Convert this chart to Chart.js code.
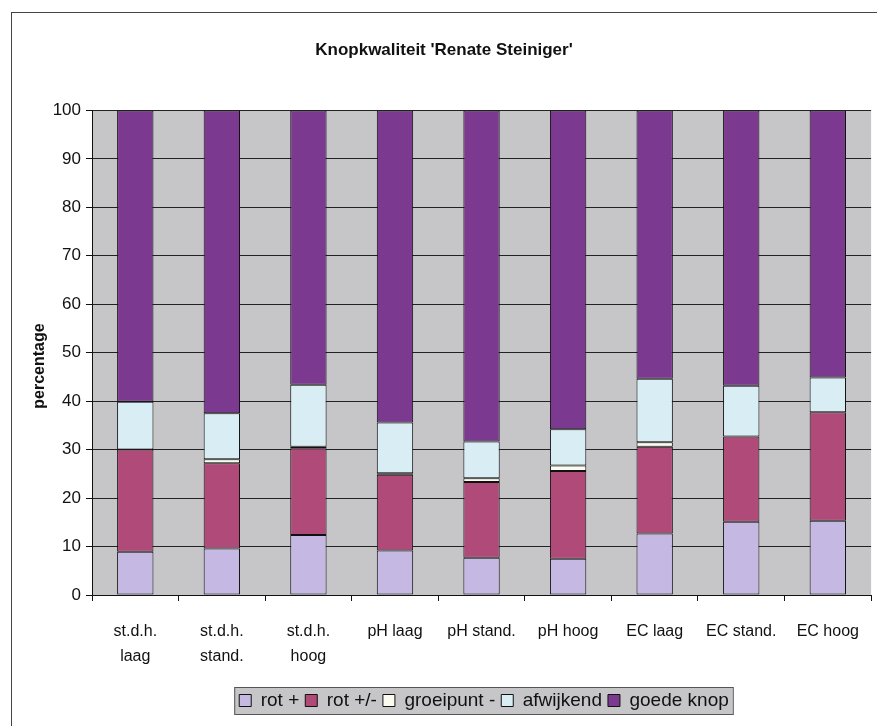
<!DOCTYPE html>
<html>
<head>
<meta charset="utf-8">
<script src="https://cdn.jsdelivr.net/npm/chart.js@4.4.0/dist/chart.umd.min.js"></script>
<style>
  body { margin: 0; background: #fff; }
  #wrap { width: 877px; height: 726px; }
</style>
</head>
<body>
<div id="wrap"><canvas id="barChart" width="877" height="726"></canvas></div>
<script>
const categories = [['st.d.h.', 'laag'], ['st.d.h.', 'stand.'], ['st.d.h.', 'hoog'], 'pH laag', 'pH stand.', 'pH hoog', 'EC laag', 'EC stand.', 'EC hoog'];
const rotPlus = [8.9, 9.6, 12.4, 9.2, 7.7, 7.5, 12.7, 15.1, 15.3];
const rotPlusMin = [21.1, 17.6, 17.9, 15.6, 15.6, 18.1, 17.9, 17.6, 22.4];
const groeipunt = [0, 0.8, 0.3, 0.3, 0.8, 1.1, 0.9, 0, 0];
const afwijkend = [9.9, 9.5, 12.8, 10.5, 7.6, 7.5, 13.1, 10.5, 7.2];
const goedeKnop = [60.1, 62.5, 56.6, 64.4, 68.3, 65.8, 55.4, 56.8, 55.1];
const yTicks = [0, 10, 20, 30, 40, 50, 60, 70, 80, 90, 100];

const FONT = "'Liberation Sans Narrow', 'Liberation Sans', Arial, sans-serif";
const LEGEND_SHIFT = 40;

// grey plot area, outer frame and box round the legend
const backdrop = {
    id: 'backdrop',
    afterLayout(chart) {
        // the legend sits a bit right of centre in the original
        const lg = chart.legend;
        lg.left += LEGEND_SHIFT;
        lg.right += LEGEND_SHIFT;
        lg.legendHitBoxes.forEach(h => { h.left += LEGEND_SHIFT; });
    },
    beforeDraw(chart) {
        const c = chart.ctx;
        const a = chart.chartArea;
        c.save();
        c.fillStyle = '#fff';
        c.fillRect(0, 0, chart.width, chart.height);
        c.strokeStyle = '#444';
        c.lineWidth = 1;
        c.strokeRect(11.5, 12.5, 1000, 1000);
        c.fillStyle = '#c6c6c8';
        c.fillRect(a.left, a.top, a.right - a.left, a.bottom - a.top);
        const hb = chart.legend.legendHitBoxes;
        if (hb && hb.length) {
            const l = Math.min(...hb.map(h => h.left)) - 5;
            const r = Math.max(...hb.map(h => h.left + h.width)) + 4;
            const t = hb[0].top - 4;
            const b = hb[0].top + hb[0].height + 4;
            c.fillStyle = '#c6c6c8';
            c.fillRect(l, t, r - l, b - t);
            c.strokeStyle = '#555';
            c.strokeRect(l + 0.5, t + 0.5, r - l, b - t);
        }
        c.restore();
    }
};

const ctx = document.getElementById('barChart');

const bar = (label, data, color) => ({
    label: label,
    data: data,
    backgroundColor: color,
    borderColor: '#111',
    borderWidth: 1,
    borderSkipped: false,
    barPercentage: 0.42,
    categoryPercentage: 1
});

new Chart(ctx, {
    type: 'bar',
    data: {
        labels: categories,
        datasets: [
            bar('rot +', rotPlus, '#c5b9e3'),
            bar('rot +/-', rotPlusMin, '#b04a78'),
            bar('groeipunt -', groeipunt, '#fbfbf0'),
            bar('afwijkend', afwijkend, '#d9edf5'),
            bar('goede knop', goedeKnop, '#7b3a8f')
        ]
    },
    plugins: [backdrop],
    options: {
        responsive: false,
        animation: false,
        layout: { padding: { left: 12, right: 1, top: 0, bottom: 6 } },
        plugins: {
            title: {
                display: true,
                text: "Knopkwaliteit 'Renate Steiniger'",
                color: '#111',
                font: { family: FONT, size: 17, weight: 'bold' },
                padding: { top: 40, bottom: 50 }
            },
            legend: {
                position: 'bottom',
                labels: {
                    color: '#111',
                    font: { family: FONT, size: 19 },
                    boxWidth: 12,
                    boxHeight: 12,
                    padding: 6,
                    generateLabels(chart) {
                        return chart.data.datasets.map((d, i) => ({
                            text: d.label,
                            fillStyle: d.backgroundColor,
                            strokeStyle: '#111',
                            lineWidth: 1,
                            datasetIndex: i,
                            fontColor: '#111'
                        }));
                    }
                }
            },
            tooltip: { enabled: false }
        },
        scales: {
            x: {
                stacked: true,
                border: { color: '#111' },
                grid: {
                    drawOnChartArea: false,
                    drawTicks: true,
                    tickLength: 6,
                    tickColor: '#111'
                },
                ticks: {
                    color: '#111',
                    padding: 18,
                    maxRotation: 0,
                    font: { family: FONT, size: 16, lineHeight: 1.55 }
                },
                afterFit(scale) { scale.height = 90; }
            },
            y: {
                stacked: true,
                min: 0,
                max: 100,
                border: { color: '#111' },
                afterBuildTicks(scale) { scale.ticks = yTicks.map(v => ({ value: v })); },
                grid: {
                    color: '#222',
                    tickColor: '#111',
                    tickLength: 6
                },
                ticks: {
                    color: '#111',
                    padding: 5,
                    font: { family: FONT, size: 17 }
                },
                title: {
                    display: true,
                    text: 'percentage      ',
                    color: '#111',
                    font: { family: FONT, size: 16, weight: 'bold' },
                    padding: { top: 18, bottom: 0 }
                },
                afterFit(scale) { scale.width = 80; }
            }
        }
    }
});
</script>
</body>
</html>
